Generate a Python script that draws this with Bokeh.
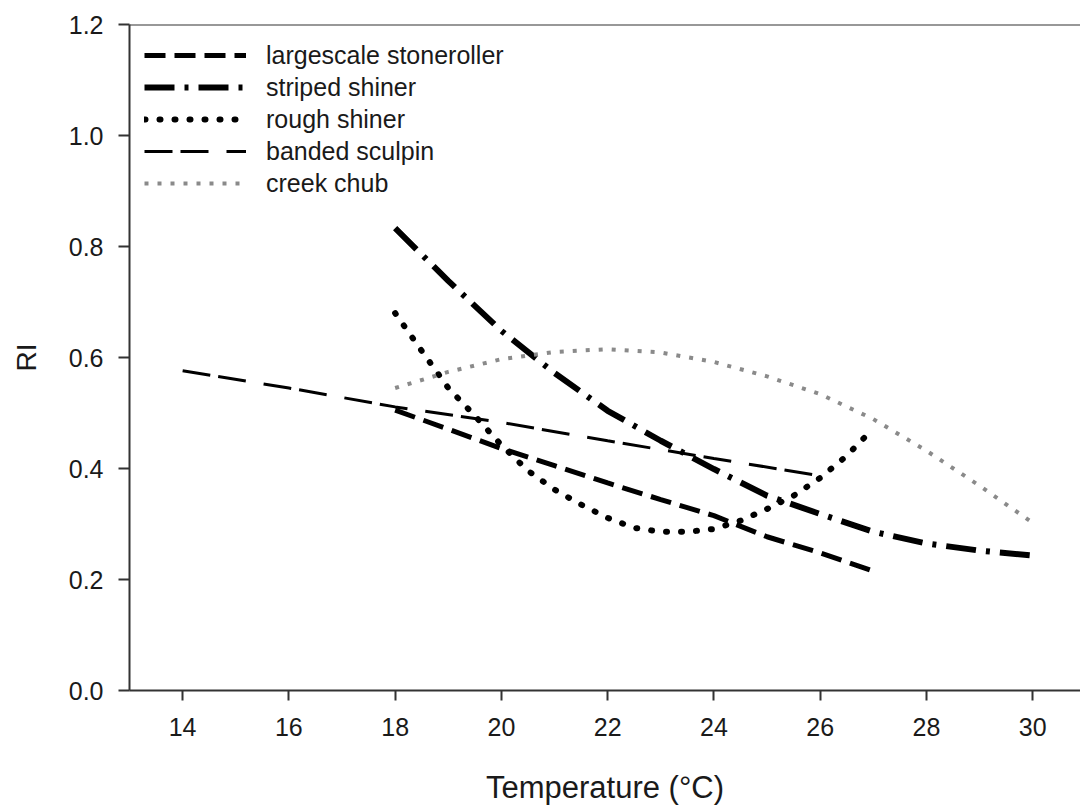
from bokeh.plotting import figure
from bokeh.models import Range1d, FixedTicker, NumeralTickFormatter, Span
from bokeh.embed import file_html
from bokeh.resources import INLINE

# ---- data ----
temp_stone = [18, 19, 20, 21, 22, 23, 24, 25, 26, 27]
ri_stone = [0.505, 0.471, 0.436, 0.405, 0.374, 0.344, 0.315, 0.277, 0.248, 0.215]

temp_striped = [18, 19, 20, 21, 22, 23, 24, 25, 26, 27, 28, 29, 30]
ri_striped = [0.833, 0.738, 0.648, 0.572, 0.504, 0.450, 0.399, 0.351, 0.318, 0.286, 0.265, 0.252, 0.243]

temp_rough = [18, 18.5, 19, 19.5, 20, 20.5, 21, 21.5, 22, 22.5, 23, 23.5, 24, 24.5, 25, 25.5, 26, 26.5, 27]
ri_rough = [0.680, 0.612, 0.545, 0.495, 0.442, 0.396, 0.362, 0.335, 0.311, 0.293, 0.286, 0.286,
            0.291, 0.306, 0.327, 0.351, 0.383, 0.423, 0.472]

temp_banded = [14, 16, 18, 20, 22, 24, 26]
ri_banded = [0.576, 0.545, 0.511, 0.483, 0.450, 0.418, 0.387]

temp_creek = [18, 19, 20, 21, 22, 23, 24, 25, 26, 27, 28, 29, 30]
ri_creek = [0.545, 0.574, 0.597, 0.610, 0.615, 0.609, 0.592, 0.566, 0.534, 0.489, 0.432, 0.369, 0.302]

x_ticks = [14, 16, 18, 20, 22, 24, 26, 28, 30]
y_ticks = [0.0, 0.2, 0.4, 0.6, 0.8, 1.0, 1.2]

FONT = "Liberation Sans"

p = figure(width=1080, height=809, output_backend="svg", toolbar_location=None,
           x_range=Range1d(13, 30.9), y_range=Range1d(0, 1.2),
           min_border_left=129, min_border_right=0, min_border_top=24, min_border_bottom=119)
p.background_fill_color = "white"
p.border_fill_color = "white"
p.outline_line_color = None
p.xgrid.visible = False
p.ygrid.visible = False

p.line(temp_stone, ri_stone, line_color="black", line_width=5, line_dash="21 9",
       legend_label="largescale stoneroller")
p.line(temp_striped, ri_striped, line_color="black", line_width=6, line_dash="30 10 4 10",
       legend_label="striped shiner")
p.line(temp_rough, ri_rough, line_color="black", line_width=6, line_dash="1 14", line_cap="round",
       legend_label="rough shiner")
p.line(temp_banded, ri_banded, line_color="black", line_width=3, line_dash="28 8 28 18",
       legend_label="banded sculpin")
p.line(temp_creek, ri_creek, line_color="#8a8a8a", line_width=4, line_dash="4 9",
       legend_label="creek chub")

p.add_layout(Span(location=1.2, dimension="width", line_color="#333333", line_width=2))

for ax in (p.xaxis[0], p.yaxis[0]):
    ax.axis_line_color = "#333333"
    ax.axis_line_width = 2
    ax.major_tick_line_color = "#333333"
    ax.major_tick_line_width = 2
    ax.major_tick_in = 0
    ax.minor_tick_line_color = None
    ax.major_label_text_font = FONT
    ax.major_label_text_font_size = "25px"
    ax.major_label_text_color = "#1a1a1a"
    ax.axis_label_text_font = FONT
    ax.axis_label_text_font_style = "normal"
    ax.axis_label_text_color = "#1a1a1a"

p.xaxis.ticker = FixedTicker(ticks=x_ticks)
p.yaxis.ticker = FixedTicker(ticks=y_ticks)
p.yaxis.formatter = NumeralTickFormatter(format="0.0")

p.xaxis.major_tick_out = 10
p.xaxis.major_label_standoff = 17
p.xaxis.axis_label = "Temperature (°C)"
p.xaxis.axis_label_text_font_size = "31px"
p.xaxis.axis_label_standoff = 31

p.yaxis.major_tick_out = 11
p.yaxis.major_label_standoff = 15
p.yaxis.axis_label = "RI"
p.yaxis.axis_label_text_font_size = "28px"
p.yaxis.axis_label_standoff = 24

lg = p.legend[0]
lg.location = "top_left"
lg.margin = 15
lg.padding = 0
lg.spacing = 0
lg.glyph_width = 102
lg.glyph_height = 32
lg.label_height = 32
lg.label_standoff = 20
lg.label_text_font = FONT
lg.label_text_font_size = "25px"
lg.label_text_color = "#1a1a1a"
lg.background_fill_alpha = 0
lg.border_line_color = None

open("out.html", "w").write(file_html(p, INLINE))
